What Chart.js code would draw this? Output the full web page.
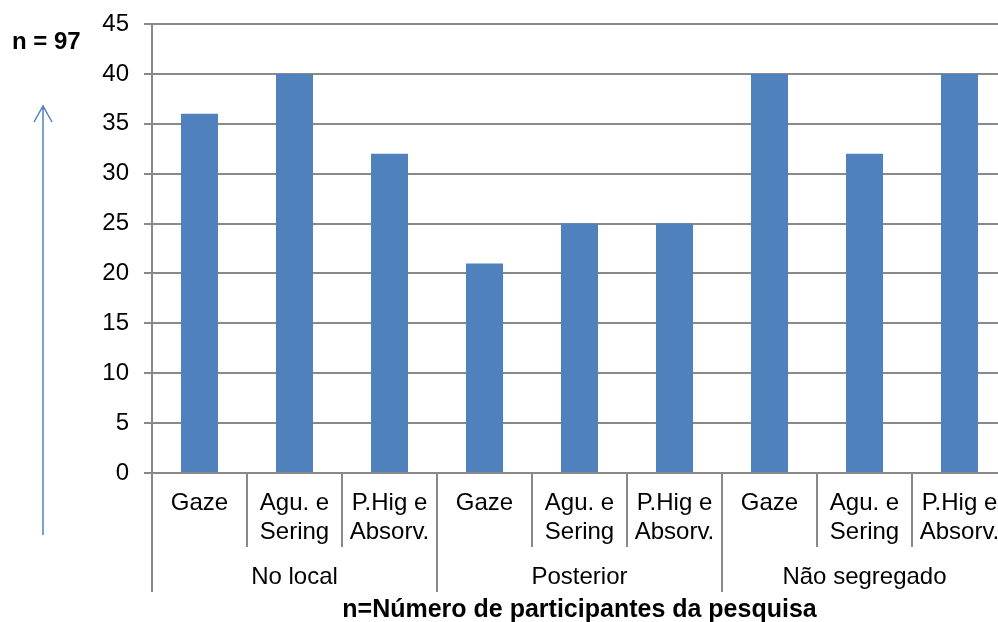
<!DOCTYPE html>
<html>
<head>
<meta charset="utf-8">
<script src="https://cdn.jsdelivr.net/npm/chart.js@4"></script>
<style>
  html, body { margin: 0; padding: 0; background: #fff; overflow: hidden; }
  #wrap { width: 1020px; height: 622px; }
</style>
</head>
<body>
<div id="wrap"><canvas id="c" width="1020" height="622"></canvas></div>
<script>
// Sub-categories (items) and the group each block of three belongs to
const itemLabels = [
  ['Gaze'], ['Agu. e', 'Sering'], ['P.Hig e', 'Absorv.'],
  ['Gaze'], ['Agu. e', 'Sering'], ['P.Hig e', 'Absorv.'],
  ['Gaze'], ['Agu. e', 'Sering'], ['P.Hig e', 'Absorv.']
];
const groupLabels = ['No local', 'Posterior', 'Não segregado'];
const groupSize = 3;
const counts = [36, 40, 32, 21, 25, 25, 40, 32, 40];
const yTicks = { min: 0, max: 45, step: 5 };
const sampleNote = 'n = 97';
const axisTitle = 'n=Número de participantes da pesquisa';

const FONT = '"Liberation Sans", Arial, sans-serif';
const GRID = '#898989';
const BLUE = '#4F81BD';

const PLOT_LEFT = 152;
const PLOT_TOP = 24;
const PLOT_BOTTOM = 473;
const PLOT_RIGHT_PAD = 13;
const H = 622;

// Separators between items/groups, group names and the side note with its arrow
const decorations = {
  id: 'decorations',
  afterDraw(chart) {
    const ctx = chart.ctx;
    const x = chart.scales.x;
    const y0 = x.top;
    const half = (x.getPixelForValue(1) - x.getPixelForValue(0)) / 2;
    ctx.save();
    ctx.strokeStyle = GRID;
    ctx.lineWidth = 2;
    for (let i = 0; i <= itemLabels.length; i++) {
      const px = i < itemLabels.length ? x.getPixelForValue(i) - half : x.getPixelForValue(i - 1) + half;
      const isGroup = i % groupSize === 0;
      ctx.beginPath();
      ctx.moveTo(px, y0);
      ctx.lineTo(px, y0 + (isGroup ? 119 : 74));
      ctx.stroke();
    }
    ctx.fillStyle = '#000';
    ctx.font = '24px ' + FONT;
    ctx.textAlign = 'center';
    ctx.textBaseline = 'alphabetic';
    groupLabels.forEach((g, gi) => {
      const a = x.getPixelForValue(gi * groupSize);
      const b = x.getPixelForValue(gi * groupSize + groupSize - 1);
      ctx.fillText(g, (a + b) / 2, y0 + 111);
    });

    // side note
    ctx.font = 'bold 24px ' + FONT;
    ctx.textAlign = 'left';
    ctx.fillText(sampleNote, 12, 49);

    // upward arrow
    ctx.strokeStyle = BLUE;
    ctx.lineWidth = 1.5;
    ctx.beginPath();
    ctx.moveTo(43, 535);
    ctx.lineTo(43, 106);
    ctx.moveTo(34, 122);
    ctx.lineTo(43, 106);
    ctx.lineTo(52, 122);
    ctx.stroke();
    ctx.restore();
  }
};

new Chart(document.getElementById('c'), {
  type: 'bar',
  data: {
    labels: itemLabels,
    datasets: [{
      data: counts,
      backgroundColor: BLUE,
      borderWidth: 0,
      categoryPercentage: 1,
      barPercentage: 0.39
    }]
  },
  options: {
    responsive: false,
    animation: false,
    devicePixelRatio: 1,
    layout: { padding: { left: 0, top: PLOT_TOP, right: PLOT_RIGHT_PAD, bottom: 0 } },
    plugins: { legend: { display: false }, tooltip: { enabled: false } },
    scales: {
      y: {
        min: yTicks.min,
        max: yTicks.max,
        ticks: {
          stepSize: yTicks.step,
          color: '#000',
          font: { family: FONT, size: 24 },
          padding: 15
        },
        grid: { color: GRID, lineWidth: 2, tickLength: 8, tickColor: GRID },
        border: { color: GRID, width: 2 },
        afterFit(s) {
          s.width = PLOT_LEFT;
          s.paddingTop = 12;
          s.paddingBottom = 12;
        }
      },
      x: {
        ticks: {
          color: '#000',
          font: { family: FONT, size: 24, lineHeight: 1.2 },
          padding: 8,
          maxRotation: 0,
          autoSkip: false
        },
        grid: { display: false },
        border: { color: GRID, width: 2 },
        title: {
          display: true,
          text: axisTitle,
          color: '#000',
          font: { family: FONT, size: 25, weight: 'bold' },
          padding: { top: 0, bottom: -3 }
        },
        afterFit(s) { s.height = H - PLOT_BOTTOM; }
      }
    }
  },
  plugins: [decorations]
});
</script>
</body>
</html>
